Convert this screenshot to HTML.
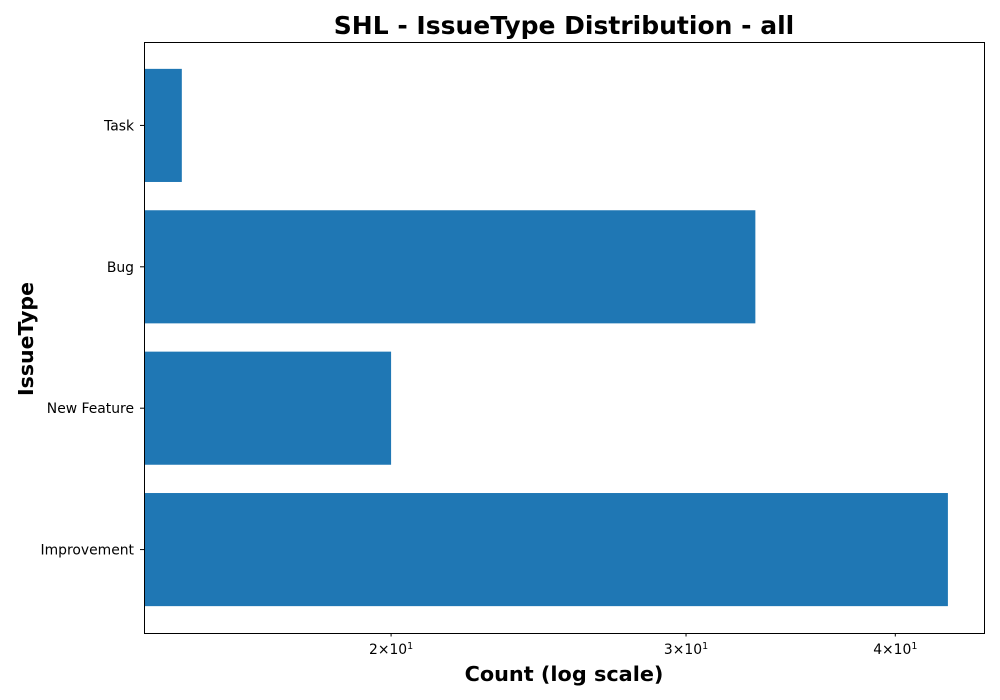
<!DOCTYPE html>
<html><head><meta charset="utf-8"><style>
body{margin:0;background:#fff;}
svg{display:block;font-family:"DejaVu Sans","Liberation Sans",sans-serif;}
</style></head><body>
<svg id="chart" width="1000" height="700">
<rect width="1000" height="700" fill="#fff"/>
<text x="564" y="34" text-anchor="middle" font-size="25" font-weight="bold">SHL - IssueType Distribution - all</text>
<text x="564" y="681" text-anchor="middle" font-size="20.8" font-weight="bold">Count (log scale)</text>
<text transform="translate(33,339) rotate(-90)" text-anchor="middle" font-size="20.5" font-weight="bold">IssueType</text>
<g id="bars"></g>
<g id="axes"></g>
<rect x="144.5" y="42.5" width="840" height="591" fill="none" stroke="#000" stroke-width="1"/>
</svg>
<script>
const categories=["Improvement","New Feature","Bug","Task"];
const counts=[43,20,33,15];
const xTicks=[20,30,40];
const xTickLabels=["2","3","4"];
const domain=[14.24,45.25];
const L=144,R=985,T=42,B=633;
const ns="http://www.w3.org/2000/svg";
function xs(v){return L+(Math.log10(v)-Math.log10(domain[0]))/(Math.log10(domain[1])-Math.log10(domain[0]))*(R-L);}
const n=categories.length;
const lo=-0.4-0.05*(n-0.2), hi=n-1+0.4+0.05*(n-0.2);
function ys(v){return B-(v-lo)/(hi-lo)*(B-T);}
const unit=(B-T)/(hi-lo);
const bars=document.getElementById('bars'),axes=document.getElementById('axes');
function mk(t,a,p){const e=document.createElementNS(ns,t);for(const k in a)e.setAttribute(k,a[k]);p.appendChild(e);return e;}
categories.forEach((c,i)=>{
 const h=unit*0.8;
 const r=mk('rect',{x:L,y:ys(i)-h/2,width:Math.max(0,xs(counts[i])-L),height:h,fill:'#1f77b4'},bars);
 
 
 mk('line',{x1:L-4,x2:L,y1:ys(i),y2:ys(i),stroke:'#000'},axes);
 const t=mk('text',{x:L-10,y:ys(i)+5,'text-anchor':'end','font-size':13.9},axes);
 t.textContent=c;
 
 
});
xTicks.forEach((v,i)=>{
 const x=xs(v);
 mk('line',{x1:x,x2:x,y1:B,y2:B+3.5,stroke:'#000'},axes);
 const t=mk('text',{x:x,y:B+21,'text-anchor':'middle','font-size':13.9},axes);
 t.innerHTML=xTickLabels[i]+'\u00d710<tspan dy="-5" font-size="9.5">1</tspan>';
 
 
});
</script>
</body></html>
